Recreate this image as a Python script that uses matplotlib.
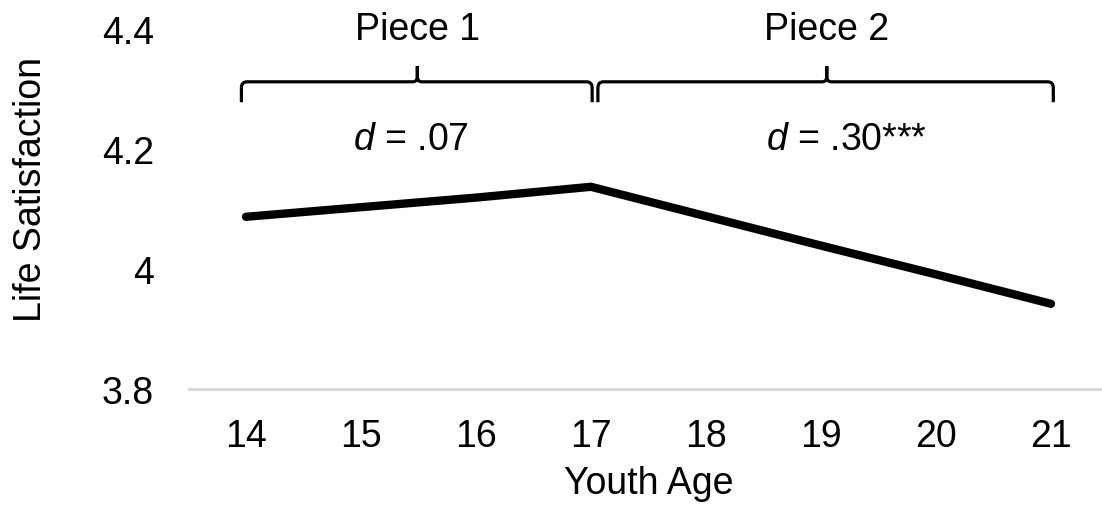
import matplotlib
matplotlib.use("Agg")
import matplotlib.pyplot as plt
from matplotlib.path import Path
from matplotlib.patches import PathPatch

plt.rcParams["font.family"] = ["Liberation Sans", "DejaVu Sans"]
plt.rcParams["mathtext.fontset"] = "custom"
plt.rcParams["mathtext.rm"] = "Liberation Sans"
plt.rcParams["mathtext.it"] = "Liberation Sans:italic"

ages = [14, 15, 16, 17, 18, 19, 20, 21]
life_sat = [4.087, 4.103, 4.119, 4.137, 4.088, 4.039, 3.991, 3.942]
y_ticks = [3.8, 4.0, 4.2, 4.4]
y_tick_labels = ["3.8", "4", "4.2", "4.4"]

pieces = ["Piece 1", "Piece 2"]
piece_spans = [(13.96, 17.01), (17.06, 21.02)]
piece_tips = [15.49, 19.05]
effects = [r"$\it{d}$ = .07", r"$\it{d}$ = .30***"]
effect_x = [15.43, 19.22]

FS = 27


def brace(ax, xl, xr, xm, y_end=4.278, y_bar=4.312, y_tip=4.338):
    # curly brace: rounded outer corners, pointed tip in the middle
    rx, ry = 0.05, 0.01
    tx, ty = 0.04, 0.009
    verts = [
        (xl, y_end), (xl, y_bar - ry),
        (xl, y_bar), (xl + rx, y_bar),
        (xm - tx, y_bar),
        (xm, y_bar), (xm, y_bar + ty),
        (xm, y_tip),
        (xm, y_bar + ty),
        (xm, y_bar), (xm + tx, y_bar),
        (xr - rx, y_bar),
        (xr, y_bar), (xr, y_bar - ry),
        (xr, y_end),
    ]
    codes = [
        Path.MOVETO, Path.LINETO,
        Path.CURVE3, Path.CURVE3,
        Path.LINETO,
        Path.CURVE3, Path.CURVE3,
        Path.LINETO,
        Path.LINETO,
        Path.CURVE3, Path.CURVE3,
        Path.LINETO,
        Path.CURVE3, Path.CURVE3,
        Path.LINETO,
    ]
    patch = PathPatch(Path(verts, codes), facecolor="none", edgecolor="black",
                      linewidth=2.3, clip_on=False, capstyle="butt")
    ax.add_patch(patch)


fig = plt.figure(figsize=(11.02, 5.06), dpi=100)
ax = fig.add_axes([188.5 / 1102, (506 - 390) / 506, 920 / 1102, 360 / 506])

ax.plot(ages, life_sat, color="black", linewidth=6, solid_capstyle="round",
        solid_joinstyle="miter", clip_on=False)

ax.set_xlim(13.5, 21.5)
ax.set_ylim(3.8, 4.4)
ax.set_xticks(ages)
ax.set_xticklabels([str(a) for a in ages])
ax.set_yticks(y_ticks)
ax.set_yticklabels(y_tick_labels)
ax.tick_params(axis="both", length=0, labelsize=FS)
ax.tick_params(axis="y", pad=25)
ax.tick_params(axis="x", pad=21)

for side in ["top", "right", "left"]:
    ax.spines[side].set_visible(False)
ax.spines["bottom"].set_color("#d9d9d9")
ax.spines["bottom"].set_linewidth(2.2)

ax.set_xlabel("Youth Age", fontsize=FS, labelpad=8)
ax.set_ylabel("Life Satisfaction", fontsize=FS)
ax.yaxis.set_label_coords(-0.152, 0.558)

for name, (xl, xr), xm, eff, ex in zip(pieces, piece_spans, piece_tips, effects, effect_x):
    brace(ax, xl, xr, xm)
    ax.text(xm, 4.4, name, fontsize=FS, ha="center", va="center", clip_on=False)
    ax.text(ex, 4.217, eff, fontsize=FS, ha="center", va="center", clip_on=False)

fig.savefig("out.png", dpi=100)
